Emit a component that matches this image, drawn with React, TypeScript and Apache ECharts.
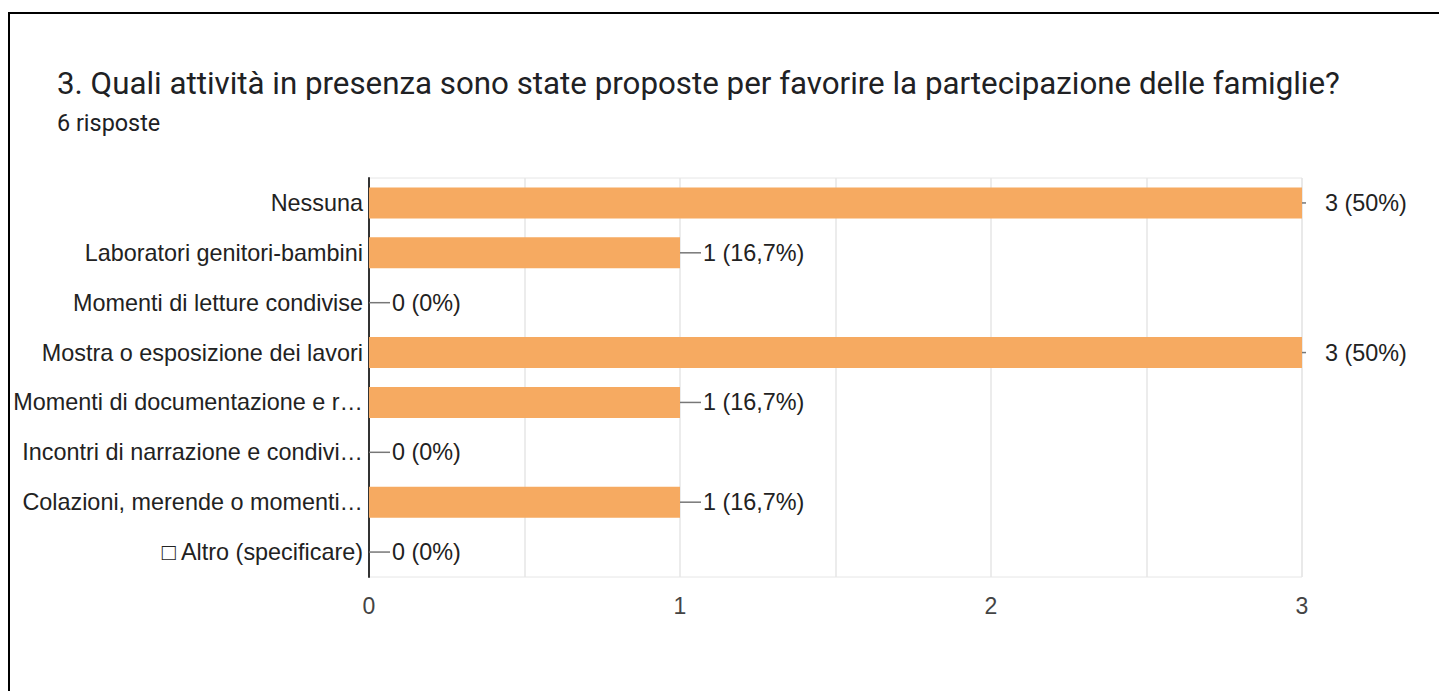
import React, { useEffect, useRef } from "react";
import * as echarts from "echarts";

const titleText =
  "3. Quali attività in presenza sono state proposte per favorire la partecipazione delle famiglie?";
const subtitleText = "6 risposte";

const categories = [
  "Nessuna",
  "Laboratori genitori-bambini",
  "Momenti di letture condivise",
  "Mostra o esposizione dei lavori",
  "Momenti di documentazione e r…",
  "Incontri di narrazione e condivi…",
  "Colazioni, merende o momenti…",
  "□ Altro (specificare)",
];
const counts = [3, 1, 0, 3, 1, 0, 1, 0];
const percents = ["50%", "16,7%", "0%", "50%", "16,7%", "0%", "16,7%", "0%"];
const xTicks = [0, 1, 2, 3];

export default function App() {
  const ref = useRef<HTMLDivElement>(null);
  useEffect(() => {
    if (!ref.current) return;
    const chart = echarts.init(ref.current, undefined, { renderer: "svg" });
    const maxVal = Math.max(...counts);
    chart.setOption({
      animation: false,
      title: [
        {
          text: titleText,
          left: 57,
          top: 68,
          padding: 0,
          textStyle: {
            fontFamily: "Roboto",
            fontSize: 31.3,
            fontWeight: "normal",
            color: "#202124",
          },
        },
        {
          text: subtitleText,
          left: 57,
          top: 111,
          padding: 0,
          textStyle: {
            fontFamily: "Roboto",
            fontSize: 23.4,
            fontWeight: "normal",
            color: "#202124",
          },
        },
      ],
      grid: {
        left: 369,
        right: 137,
        top: 178,
        bottom: 114,
        show: true,
        borderColor: "#e6e6e6",
        borderWidth: 1,
      },
      xAxis: {
        type: "value",
        min: xTicks[0],
        max: xTicks[xTicks.length - 1],
        interval: 0.5,
        axisLine: { show: false },
        axisTick: { show: false },
        splitLine: { lineStyle: { color: "#e6e6e6", width: 1.5 } },
        axisLabel: {
          margin: 17,
          fontFamily: "Liberation Sans",
          fontSize: 23,
          color: "#444",
          formatter: (v: number) => (xTicks.includes(v) ? String(v) : ""),
        },
      },
      yAxis: {
        type: "category",
        data: categories,
        inverse: true,
        axisLine: { show: true, lineStyle: { color: "#333", width: 2 } },
        axisTick: { show: false },
        axisLabel: {
          margin: 6,
          fontFamily: "Liberation Sans",
          fontSize: 23.4,
          color: "#222",
        },
      },
      series: [
        {
          type: "bar",
          barWidth: 31,
          itemStyle: { color: "#f6aa61" },
          data: counts.map((c, i) => ({
            value: c,
            label: {
              show: true,
              position: "right",
              distance: 23,
              formatter: () => `${c} (${percents[i]})`,
              fontFamily: "Liberation Sans",
              fontSize: 23.4,
              color: "#222",
            },
          })),
          z: 2,
        },
        {
          type: "custom",
          z: 3,
          silent: true,
          renderItem: (params: any, api: any) => {
            const v = api.value(0);
            const idx = api.value(1);
            const p = api.coord([v, idx]);
            const len = v === maxVal ? 4 : 21;
            return {
              type: "line",
              shape: { x1: p[0], y1: p[1], x2: p[0] + len, y2: p[1] },
              style: { stroke: "#777", lineWidth: 1.5 },
            };
          },
          data: counts.map((c, i) => [c, i]),
        },
      ],
    });
    return () => chart.dispose();
  }, []);

  return (
    <div
      style={{
        position: "fixed",
        left: 0,
        top: 0,
        width: 1439,
        height: 691,
        overflow: "hidden",
        background: "#fff",
      }}
    >
      <div
        style={{
          position: "absolute",
          left: 8,
          top: 12,
          width: 1460,
          height: 720,
          border: "2px solid #000",
          boxSizing: "border-box",
        }}
      />
      <div
        ref={ref}
        style={{ position: "absolute", left: 0, top: 0, width: 1439, height: 691 }}
      />
    </div>
  );
}
